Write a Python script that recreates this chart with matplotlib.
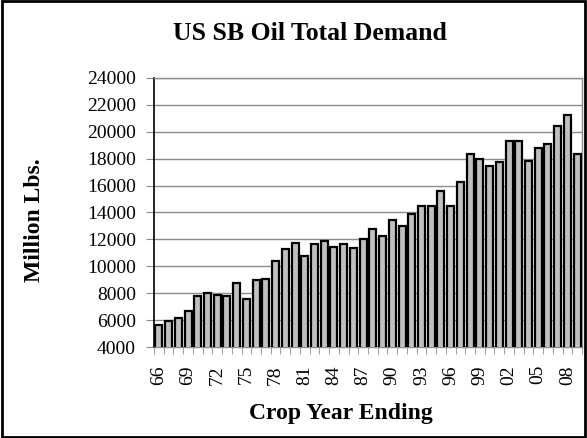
import matplotlib
matplotlib.use("Agg")
import matplotlib.pyplot as plt
from matplotlib.patches import Rectangle
from matplotlib.ticker import FixedLocator

plt.rcParams['font.family'] = ['Liberation Serif', 'DejaVu Serif']

years = ["66", "67", "68", "69", "70", "71", "72", "73", "74", "75",
         "76", "77", "78", "79", "80", "81", "82", "83", "84", "85",
         "86", "87", "88", "89", "90", "91", "92", "93", "94", "95",
         "96", "97", "98", "99", "00", "01", "02", "03", "04", "05",
         "06", "07", "08", "09"]
demand = [5670, 5940, 6140, 6660, 7780, 8050, 7880, 7780, 8750, 7600,
          8970, 9070, 10360, 11280, 11700, 10760, 11650, 11900, 11430, 11630,
          11330, 12020, 12790, 12250, 13440, 12970, 13910, 14480, 14480, 15580,
          14480, 16300, 18340, 18010, 17470, 17740, 19350, 19350, 17810, 18760,
          19110, 20450, 21240, 18360]
yticks = list(range(4000, 24001, 2000))

fig = plt.figure(figsize=(5.87, 4.38), dpi=100)
ax = fig.add_axes([154/587, 1-347/438, (582-154)/587, (347-78)/438])

x = list(range(len(years)))
ax.bar(x, demand, width=0.72, color='#c0c0c0', edgecolor='black', linewidth=1.6, zorder=3)

ax.set_xlim(-0.5, len(years) - 0.5)
ax.set_ylim(4000, 24000)
ax.set_yticks(yticks)
ax.set_yticklabels([str(v) for v in yticks], fontsize=14)
ax.yaxis.grid(True, color='#8c8c8c', linewidth=1, zorder=0)
ax.set_axisbelow(True)

lab_idx = list(range(0, len(years), 3))
ax.set_xticks(lab_idx)
ax.set_xticklabels([years[i] for i in lab_idx], rotation=90, fontsize=14)
ax.tick_params(axis='x', which='major', length=0, pad=13)
ax.xaxis.set_minor_locator(FixedLocator([i - 0.5 for i in range(len(years) + 1)]))
ax.tick_params(axis='x', which='minor', length=5, color='#8c8c8c', direction='out')
ax.tick_params(axis='y', length=6, color='#8c8c8c', direction='out', pad=7)

ax.spines['left'].set_color('black')
ax.spines['left'].set_linewidth(1.2)
for s in ['top', 'right', 'bottom']:
    ax.spines[s].set_color('#8c8c8c')
    ax.spines[s].set_linewidth(1)

fig.text(310/587, 1-33/438, "US SB Oil Total Demand", ha='center', va='center',
         fontsize=18.5, fontweight='bold')
fig.text(341/587, 1-413/438, "Crop Year Ending", ha='center', va='center',
         fontsize=17, fontweight='bold')
fig.text(35/587, 1-220/438, "Million Lbs.", ha='center', va='center',
         rotation=90, fontsize=17, fontweight='bold')

fig.patches.append(Rectangle((0.003, 0.003), 0.994, 0.994, transform=fig.transFigure,
                             fill=False, edgecolor='black', linewidth=2))

fig.savefig("out.png", dpi=100)
